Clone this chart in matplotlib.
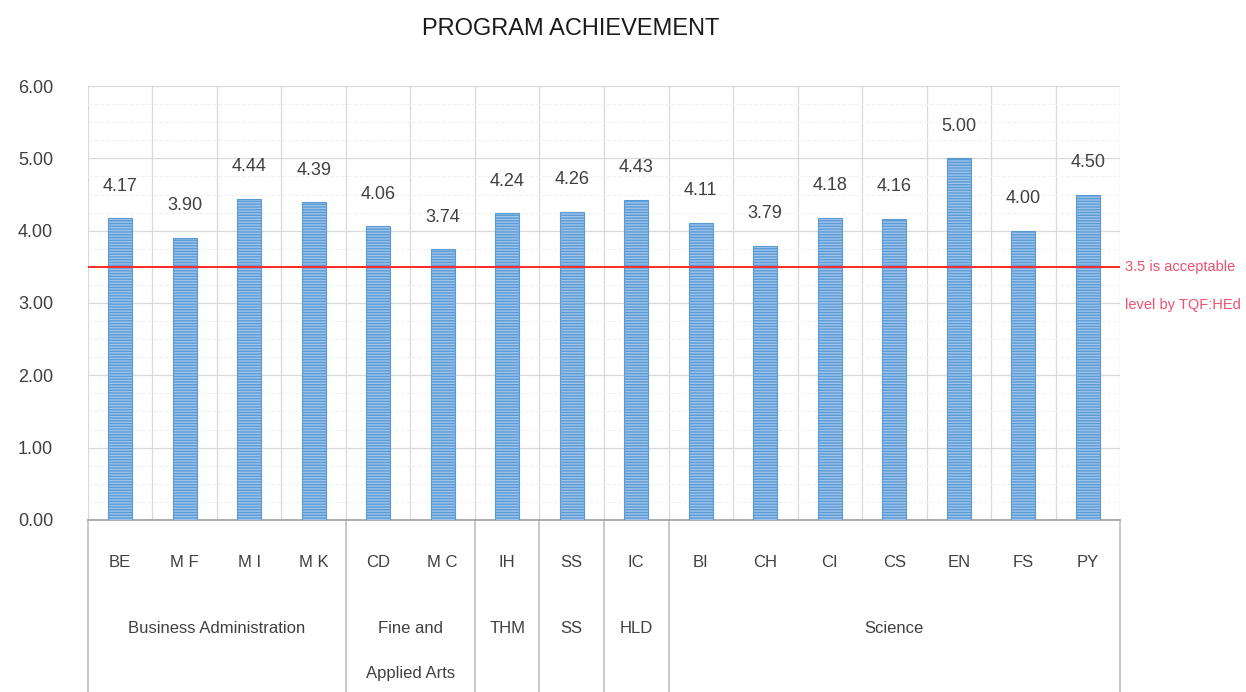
import numpy as np
import matplotlib
matplotlib.use("Agg")
import matplotlib.pyplot as plt
import matplotlib.transforms as mtransforms

plt.rcParams['font.family'] = ['Liberation Sans', 'DejaVu Sans']
plt.rcParams['hatch.linewidth'] = 1.0

# data
programs = ['BE', 'M F', 'M I', 'M K', 'CD', 'M C', 'IH', 'SS', 'IC',
            'BI', 'CH', 'CI', 'CS', 'EN', 'FS', 'PY']
scores = [4.17, 3.90, 4.44, 4.39, 4.06, 3.74, 4.24, 4.26, 4.43,
          4.11, 3.79, 4.18, 4.16, 5.00, 4.00, 4.50]
groups = ['Business Administration', 'Fine and\nApplied Arts', 'THM', 'SS', 'HLD', 'Science']
group_sizes = [4, 2, 1, 1, 1, 7]
threshold = 3.5
threshold_note = ['3.5 is acceptable', 'level by TQF:HEd']

text_col = '#404040'
grid_col = '#d9d9d9'

fig = plt.figure(figsize=(12.46, 6.92), dpi=100)
ax = fig.add_axes([0.0706, 0.2486, 0.8283, 0.6271])

x = np.arange(len(programs))
bars = ax.bar(x, scores, width=0.37, color='#9fc4ea', edgecolor='#5b9bd5',
              linewidth=0.8, hatch='------', zorder=3)

for xi, v in zip(x, scores):
    ax.annotate(f'{v:.2f}', (xi, v), xytext=(0, 17), textcoords='offset points',
                ha='center', va='bottom', fontsize=13, color=text_col)

# acceptable level line
ax.axhline(threshold, color='#ff2a2a', lw=1.4, zorder=4)
ax.text(len(programs) - 0.42, threshold, threshold_note[0], color='#f0506e',
        fontsize=10.5, va='center', ha='left')
ax.text(len(programs) - 0.42, threshold - 0.53, threshold_note[1], color='#f0506e',
        fontsize=10.5, va='center', ha='left')

ax.set_xlim(-0.5, len(programs) - 0.5)
ax.set_ylim(0, 6)
ax.set_yticks(np.arange(0, 7, 1))
ax.set_yticklabels([f'{t:.2f}' for t in np.arange(0, 7, 1)])
ax.set_yticks(np.arange(0, 6, 0.25), minor=True)
ax.tick_params(axis='y', which='both', length=0, pad=25, labelsize=13, labelcolor=text_col)
ax.set_xticks([])

ax.grid(axis='y', which='major', color=grid_col, lw=0.9, zorder=0)
ax.grid(axis='y', which='minor', color='#f1f1f1', lw=0.8, ls='--', zorder=0)
for b in np.arange(-0.5, len(programs), 1):
    ax.axvline(b, color=grid_col, lw=0.9, zorder=0)

for s in ['top', 'right', 'left']:
    ax.spines[s].set_visible(False)
ax.spines['bottom'].set_color('#a6a6a6')
ax.spines['bottom'].set_linewidth(1.3)

# category table under the axis
trans = mtransforms.blended_transform_factory(ax.transData, ax.transAxes)
for xi, p in zip(x, programs):
    ax.text(xi, -0.097, p, transform=trans, ha='center', va='center',
            fontsize=12, color=text_col)

start = 0
edges = [-0.5]
for g, n in zip(groups, group_sizes):
    mid = start + (n - 1) / 2
    ax.text(mid, -0.232, g, transform=trans, ha='center', va='top',
            fontsize=12, color=text_col, linespacing=3.55)
    start += n
    edges.append(start - 0.5)
for e in edges:
    ax.plot([e, e], [0, -0.42], transform=trans, color='#bfbfbf', lw=1.2,
            clip_on=False, zorder=1)

fig.text(0.458, 0.958, 'PROGRAM ACHIEVEMENT', ha='center', va='center',
         fontsize=17, color='#1a1a1a')

fig.savefig('out.png', dpi=100, facecolor='white')
